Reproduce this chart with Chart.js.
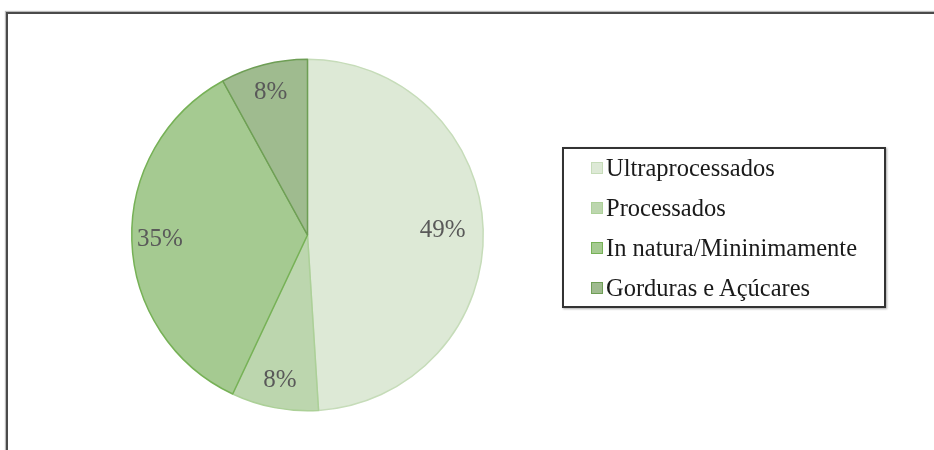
<!DOCTYPE html>
<html>
<head>
<meta charset="utf-8">
<script src="https://cdn.jsdelivr.net/npm/chart.js@4.4.1/dist/chart.umd.min.js"></script>
<style>
  html, body { margin: 0; padding: 0; background: #fff; }
  body { width: 934px; height: 450px; position: relative; overflow: hidden; font-family: "Liberation Serif", "DejaVu Serif", serif; }
  #frame { position: absolute; left: 6px; top: 12px; width: 1000px; height: 600px; border-top: 2px solid #4a4a4a; border-left: 2px solid #4a4a4a; box-shadow: -1px -1px 1px #bbb; }
  #pieWrap { position: absolute; left: 0; top: 0; width: 620px; height: 450px; }
  #legend { position: absolute; left: 562px; top: 147px; width: 320px; height: 157px; border: 2px solid #333; box-shadow: 1px 1px 2px #aaa; background: #fff; }
  #legend .item { position: absolute; left: 27px; height: 26px; display: flex; align-items: center; color: #1a1a1a; font-size: 24.5px; white-space: nowrap; }
  #legend .box { width: 12px; height: 12px; margin-right: 3px; box-sizing: border-box; border: 1px solid; }
</style>
</head>
<body>
<div id="frame"></div>
<div id="pieWrap"><canvas id="pie"></canvas></div>
<div id="legend"></div>
<script>
// dados
const categorias = ["Ultraprocessados", "Processados", "In natura/Mininimamente", "Gorduras e Açúcares"];
const percentuais = [49, 8, 35, 8];
const rotulos = ["49%", "8%", "35%", "8%"];

const cores = ["#dde9d6", "#bcd6ae", "#a5ca91", "#9fbb8f"];
const bordas = ["#c6dcb9", "#acd098", "#76b156", "#6e9e55"];

// rótulos dentro das fatias
const rotulosFatias = {
  id: "rotulosFatias",
  afterDatasetsDraw(chart) {
    const ctx = chart.ctx;
    const meta = chart.getDatasetMeta(0);
    ctx.save();
    ctx.font = '25px "Liberation Serif", serif';
    ctx.fillStyle = "#595959";
    ctx.textAlign = "center";
    ctx.textBaseline = "middle";
    meta.data.forEach((arc, i) => {
      const p = arc.getProps(["x", "y", "startAngle", "endAngle", "outerRadius"], true);
      const a = (p.startAngle + p.endAngle) / 2;
      const r = p.outerRadius * (i === 0 ? 0.77 : 0.84);
      ctx.fillText(rotulos[i], p.x + Math.cos(a) * r, p.y + Math.sin(a) * r);
    });
    ctx.restore();
  }
};

const canvas = document.getElementById("pie");
canvas.width = 620;
canvas.height = 450;

new Chart(canvas, {
  type: "pie",
  data: {
    labels: categorias,
    datasets: [{
      data: percentuais,
      backgroundColor: cores,
      borderColor: bordas,
      borderWidth: 1.5
    }]
  },
  options: {
    responsive: false,
    animation: false,
    layout: { padding: { left: 131, right: 136, top: 56, bottom: 36 } },
    plugins: {
      legend: { display: false },
      tooltip: { enabled: false }
    }
  },
  plugins: [rotulosFatias]
});

// legenda em HTML, feita a partir das mesmas listas
const legend = document.getElementById("legend");
const linhas = [6, 46, 86, 126];
categorias.forEach((nome, i) => {
  const item = document.createElement("div");
  item.className = "item";
  item.style.top = linhas[i] + "px";
  const box = document.createElement("span");
  box.className = "box";
  box.style.background = cores[i];
  box.style.borderColor = bordas[i];
  const txt = document.createElement("span");
  txt.textContent = nome;
  item.appendChild(box);
  item.appendChild(txt);
  legend.appendChild(item);
});
</script>
</body>
</html>
